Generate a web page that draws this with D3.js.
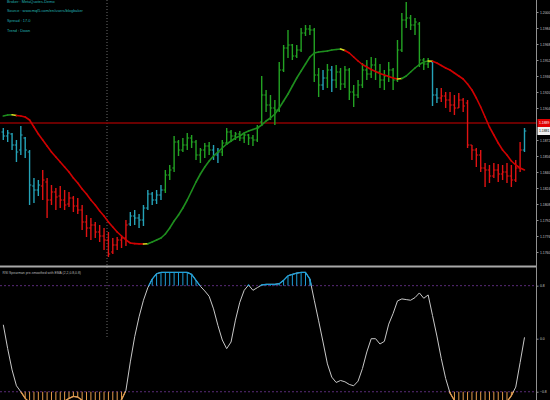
<!DOCTYPE html>
<html><head><meta charset="utf-8">
<script src="https://cdn.jsdelivr.net/npm/d3@7"></script>
<style>html,body{margin:0;padding:0;background:#000;overflow:hidden}</style>
</head><body>
<svg id="c" width="550" height="400"></svg>
<script>
// ---------------- DATA ----------------
const openP = [
1.1880,1.1876,1.1878,1.1867,1.1862,1.1874,1.1860,1.1826,1.1822,1.1826,
1.1830,1.1812,1.1820,1.1816,1.1812,1.1808,1.1814,1.1806,1.1802,1.1790,
1.1784,1.1787,1.1780,1.1776,1.1772,1.1760,1.1767,1.1772,1.1774,1.1788,
1.1796,1.1794,1.1792,1.1804,1.1818,1.1812,1.1817,1.1822,1.1837,1.1844,
1.1870,1.1862,1.1867,1.1874,1.1870,1.1857,1.1862,1.1866,1.1862,1.1857,
1.1860,1.1869,1.1880,1.1876,1.1878,1.1874,1.1877,1.1874,1.1872,1.1890,
1.1917,1.1907,1.1904,1.1902,1.1942,1.1964,1.1967,1.1956,1.1962,1.1979,
1.1983,1.1982,1.1937,1.1927,1.1934,1.1942,1.1932,1.1940,1.1928,1.1942,
1.1920,1.1917,1.1927,1.1942,1.1938,1.1947,1.1940,1.1932,1.1936,1.1942,
1.1932,1.1962,1.1992,1.1994,1.1987,1.1988,1.1952,1.1948,1.1950,1.1917,
1.1914,1.1916,1.1912,1.1907,1.1904,1.1912,1.1909,1.1867,1.1862,1.1857,
1.1844,1.1842,1.1836,1.1842,1.1838,1.1840,1.1836,1.1832,1.1844,1.1862];
const highP = [
1.1884,1.1882,1.1879,1.1872,1.1886,1.1875,1.1862,1.1834,1.1832,1.1842,
1.1834,1.1827,1.1824,1.1826,1.1822,1.1820,1.1816,1.1814,1.1807,1.1797,
1.1794,1.1790,1.1787,1.1784,1.1780,1.1774,1.1775,1.1776,1.1792,1.1800,
1.1802,1.1798,1.1807,1.1822,1.1820,1.1822,1.1827,1.1842,1.1847,1.1876,
1.1872,1.1874,1.1879,1.1877,1.1872,1.1864,1.1869,1.1870,1.1867,1.1864,
1.1872,1.1884,1.1882,1.1880,1.1881,1.1879,1.1878,1.1877,1.1887,1.1936,
1.1922,1.1917,1.1912,1.1950,1.1967,1.1982,1.1968,1.1967,1.1984,1.1987,
1.1987,1.1984,1.1944,1.1942,1.1948,1.1946,1.1947,1.1944,1.1946,1.1944,
1.1927,1.1932,1.1949,1.1952,1.1955,1.1954,1.1948,1.1942,1.1950,1.1944,
1.1972,1.1999,1.2010,1.1997,1.1994,1.1990,1.1954,1.1954,1.1950,1.1924,
1.1924,1.1920,1.1920,1.1917,1.1919,1.1914,1.1912,1.1867,1.1864,1.1862,
1.1849,1.1847,1.1849,1.1848,1.1847,1.1849,1.1847,1.1852,1.1870,1.1884];
const lowP = [
1.1872,1.1870,1.1862,1.1850,1.1857,1.1854,1.1807,1.1809,1.1816,1.1812,
1.1794,1.1807,1.1802,1.1804,1.1802,1.1805,1.1800,1.1798,1.1782,1.1775,
1.1772,1.1774,1.1770,1.1762,1.1755,1.1758,1.1762,1.1764,1.1766,1.1786,
1.1787,1.1784,1.1786,1.1802,1.1807,1.1808,1.1812,1.1819,1.1832,1.1840,
1.1856,1.1860,1.1862,1.1864,1.1852,1.1849,1.1854,1.1857,1.1852,1.1849,
1.1856,1.1867,1.1870,1.1872,1.1871,1.1869,1.1867,1.1866,1.1870,1.1886,
1.1900,1.1892,1.1887,1.1900,1.1940,1.1954,1.1952,1.1954,1.1960,1.1976,
1.1977,1.1930,1.1915,1.1922,1.1924,1.1920,1.1924,1.1922,1.1924,1.1912,
1.1905,1.1914,1.1924,1.1932,1.1934,1.1932,1.1924,1.1922,1.1930,1.1922,
1.1930,1.1960,1.1984,1.1982,1.1977,1.1945,1.1942,1.1944,1.1906,1.1909,
1.1910,1.1904,1.1900,1.1897,1.1904,1.1900,1.1864,1.1852,1.1845,1.1840,
1.1825,1.1829,1.1834,1.1830,1.1832,1.1829,1.1825,1.1830,1.1840,1.1860];
const closeP = [
1.1876,1.1879,1.1867,1.1860,1.1877,1.1862,1.1827,1.1822,1.1827,1.1832,
1.1812,1.1820,1.1815,1.1812,1.1807,1.1814,1.1806,1.1802,1.1790,1.1784,
1.1787,1.1780,1.1776,1.1772,1.1758,1.1767,1.1772,1.1774,1.1787,1.1796,
1.1794,1.1792,1.1804,1.1818,1.1812,1.1817,1.1822,1.1837,1.1842,1.1870,
1.1862,1.1867,1.1874,1.1870,1.1857,1.1862,1.1866,1.1862,1.1857,1.1860,
1.1869,1.1880,1.1876,1.1878,1.1874,1.1877,1.1874,1.1872,1.1884,1.1917,
1.1907,1.1904,1.1902,1.1942,1.1964,1.1967,1.1956,1.1962,1.1979,1.1983,
1.1982,1.1937,1.1927,1.1934,1.1942,1.1932,1.1940,1.1928,1.1942,1.1920,
1.1917,1.1927,1.1942,1.1938,1.1947,1.1940,1.1932,1.1936,1.1942,1.1932,
1.1962,1.1992,1.1994,1.1987,1.1990,1.1952,1.1948,1.1950,1.1917,1.1914,
1.1916,1.1912,1.1907,1.1904,1.1912,1.1906,1.1867,1.1862,1.1857,1.1844,
1.1842,1.1836,1.1842,1.1838,1.1840,1.1836,1.1832,1.1844,1.1862,1.1881];
// bar state: c = neutral, r = bearish trend, g = bullish trend
const barState = (
"ccccccccc" + "rrrrrrrrrrrrrrrrrrrr" + "cccccccc" + "ggggggggggg" + "cc" +
"ggggggggggggggggggggggg" + "c" + "g" + "c" + "gggggggggggggggggggggg" + "cc" +
"rrrrrrrrrrrrrrrrrrr" + "c").split("");
// smoothed moving average
const maP = [
1.1896,1.1897,1.18972,1.18965,1.1896,1.1895,1.1892,1.1885,1.1878,1.1872,
1.1866,1.1860,1.1855,1.1850,1.1845,1.1840,1.1834,1.1829,1.1823,1.1818,
1.1812,1.1807,1.1801,1.1796,1.1790,1.1785,1.1780,1.1776,1.1772,1.17690,
1.17684,1.17681,1.17680,1.17682,1.1770,1.1772,1.1774,1.1778,1.1784,1.1791,
1.1797,1.1804,1.1812,1.1821,1.1830,1.1838,1.1845,1.1851,1.1856,1.1860,
1.1864,1.1868,1.1871,1.1874,1.1876,1.1879,1.1881,1.18825,1.1884,1.1887,
1.1891,1.1894,1.1898,1.1904,1.1911,1.1918,1.1926,1.1934,1.1941,1.1948,
1.1955,1.1959,1.1960,1.19605,1.1961,1.1962,1.19625,1.1963,1.19615,1.1959,
1.1955,1.1951,1.19475,1.1945,1.19425,1.19405,1.19385,1.1937,1.19355,1.1934,
1.1933,1.19335,1.1936,1.1940,1.1944,1.19475,1.1950,1.1951,1.19508,1.1949,
1.19465,1.1944,1.1942,1.1939,1.1936,1.1933,1.1928,1.1922,1.1914,1.1905,
1.1895,1.1885,1.1877,1.1869,1.1862,1.1857,1.1851,1.1847,1.1844,1.1842];
// RSI Spearman oscillator (-1..1)
const oscV = [
0.21,-0.15,-0.47,-0.71,-0.80,-0.90,-0.96,-0.98,-0.99,-1.00,
-1.00,-0.99,-0.98,-0.97,-0.94,-0.90,-0.87,-0.88,-0.93,-0.97,
-0.99,-1.00,-1.00,-1.00,-1.00,-0.99,-0.97,-0.92,-0.78,-0.35,
0.03,0.33,0.58,0.77,0.90,0.98,1.00,1.00,1.00,1.00,
1.00,1.00,1.00,0.97,0.88,0.79,0.72,0.64,0.45,0.20,
-0.02,-0.15,-0.05,0.28,0.55,0.73,0.81,0.73,0.77,0.81,
0.82,0.82,0.82,0.83,0.88,0.95,0.97,0.99,1.00,1.00,
0.90,0.58,0.27,-0.05,-0.38,-0.58,-0.66,-0.63,-0.65,-0.69,
-0.71,-0.64,-0.45,-0.20,0.00,0.00,-0.08,-0.04,0.22,0.38,
0.57,0.60,0.59,0.58,0.62,0.69,0.61,0.66,0.35,0.04,
-0.30,-0.60,-0.82,-0.93,-0.97,-0.99,-1.00,-1.00,-1.00,-1.00,
-0.99,-1.00,-1.00,-0.99,-0.98,-0.95,-0.86,-0.73,-0.36,0.02];
const priceTicks = [1.2000,1.1984,1.1968,1.1952,1.1936,1.1920,1.1904,1.1888,1.1872,1.1856,1.1840,1.1824,1.1808,1.1792,1.1776,1.1760];
const levelValues = [0.8, -0.8];
const oscTicks = [0.8, 0.0, -0.8];
const markLevel = 1.1889;
const bidPrice = closeP[closeP.length - 1];
const infoLines = ["Broker : MetaQuotes-Demo", "Source : www.mql5.com/en/users/blogbaker", "Spread : 17.0", "Trend : Down"];
const oscTitle = "RSI Spearman pre-smoothed with EMA (2,2,0.8,0.8)";

// ---------------- DRAW ----------------
const svg = d3.select("#c");
const axisX = 536.5, mainBottom = 265, lowTop = 268;
const n = closeP.length;
const x = d3.scaleLinear().domain([0, n - 1]).range([3.3, 524.5]);
const y = d3.scaleLinear().domain([1.1747, 1.2012]).range([mainBottom, 0]);
const yo = d3.scaleLinear().domain([-1, 1]).range([405, 272.4]);

svg.append("rect").attr("width", 550).attr("height", 400).attr("fill", "#000");
const defs = svg.append("defs");
defs.append("clipPath").attr("id", "cm").append("rect").attr("x", 0).attr("y", 0).attr("width", axisX).attr("height", mainBottom);
defs.append("clipPath").attr("id", "cl").append("rect").attr("x", 0).attr("y", lowTop).attr("width", axisX).attr("height", 400 - lowTop);
defs.append("clipPath").attr("id", "cup").append("rect").attr("x", 0).attr("y", lowTop).attr("width", axisX).attr("height", yo(0.8) - lowTop);
defs.append("clipPath").attr("id", "cdn").append("rect").attr("x", 0).attr("y", yo(-0.8)).attr("width", axisX).attr("height", 400 - yo(-0.8));

const barColor = {c: "#25a3b8", r: "#e01212", g: "#23a323"};
const font = "Liberation Sans, Arial, sans-serif";

// vertical dotted line
svg.append("line").attr("x1", 107).attr("x2", 107).attr("y1", 0).attr("y2", 338)
  .attr("stroke", "#6a6a6a").attr("stroke-width", 1).attr("stroke-dasharray", "1,2");

// info text
svg.append("g").selectAll("text").data(infoLines).join("text")
  .attr("x", 7).attr("y", (d, i) => 2.5 + i * 9.8)
  .attr("fill", "#21b2b2").attr("font-family", font).attr("font-size", 3.9)
  .text(d => d);

// main panel
const main = svg.append("g").attr("clip-path", "url(#cm)");
main.append("line").attr("x1", 0).attr("x2", axisX).attr("y1", y(markLevel)).attr("y2", y(markLevel))
  .attr("stroke", "#8c0000").attr("stroke-width", 1.6);

const bars = main.append("g").selectAll("g").data(d3.range(n)).join("g")
  .attr("stroke", i => barColor[barState[i]]);
bars.append("line").attr("x1", i => x(i)).attr("x2", i => x(i))
  .attr("y1", i => y(highP[i])).attr("y2", i => y(lowP[i])).attr("stroke-width", 1.4);
bars.append("line").attr("x1", i => x(i) - 1.8).attr("x2", i => x(i))
  .attr("y1", i => y(openP[i])).attr("y2", i => y(openP[i])).attr("stroke-width", 1);
bars.append("line").attr("x1", i => x(i)).attr("x2", i => x(i) + 1.8)
  .attr("y1", i => y(closeP[i])).attr("y2", i => y(closeP[i])).attr("stroke-width", 1);

// MA line coloured by slope
const segs = [];
let prevDir = 0;
for (let i = 0; i < n - 1; i++) {
  const d = maP[i + 1] - maP[i];
  const dir = d >= 0 ? 1 : -1;
  let col = dir > 0 ? "#1e8e1e" : "#d00000";
  if (i > 0 && dir !== prevDir) col = "#d8d820";
  segs.push({i, col});
  prevDir = dir;
}
main.append("g").selectAll("line").data(segs).join("line")
  .attr("x1", s => x(s.i)).attr("x2", s => x(s.i + 1))
  .attr("y1", s => y(maP[s.i])).attr("y2", s => y(maP[s.i + 1]))
  .attr("stroke", s => s.col).attr("stroke-width", 1.6).attr("stroke-linecap", "round");

// separator
svg.append("line").attr("x1", 0).attr("x2", axisX).attr("y1", 266.5).attr("y2", 266.5)
  .attr("stroke", "#a8a8a8").attr("stroke-width", 2);

// lower panel
const low = svg.append("g").attr("clip-path", "url(#cl)");
low.append("g").selectAll("line").data(levelValues).join("line")
  .attr("x1", 0).attr("x2", axisX).attr("y1", d => yo(d)).attr("y2", d => yo(d))
  .attr("stroke", "#5a2a78").attr("stroke-width", 1).attr("stroke-dasharray", "2,2");
const upIdx = d3.range(n).filter(i => oscV[i] > 0.8);
const dnIdx = d3.range(n).filter(i => oscV[i] < -0.8);
low.append("g").selectAll("line").data(upIdx).join("line")
  .attr("x1", i => x(i)).attr("x2", i => x(i)).attr("y1", yo(0.8)).attr("y2", i => yo(oscV[i]))
  .attr("stroke", "#1e9fd8").attr("stroke-width", 1);
low.append("g").selectAll("line").data(dnIdx).join("line")
  .attr("x1", i => x(i)).attr("x2", i => x(i)).attr("y1", yo(-0.8)).attr("y2", i => yo(oscV[i]))
  .attr("stroke", "#e39a4a").attr("stroke-width", 1);
const oscLine = d3.line().x((d, i) => x(i)).y(d => yo(d));
low.append("path").datum(oscV).attr("d", oscLine).attr("fill", "none")
  .attr("stroke", "#c8c8c8").attr("stroke-width", 1);
low.append("path").datum(oscV).attr("d", oscLine).attr("fill", "none").attr("clip-path", "url(#cup)")
  .attr("stroke", "#1e9fd8").attr("stroke-width", 1.3);
low.append("path").datum(oscV).attr("d", oscLine).attr("fill", "none").attr("clip-path", "url(#cdn)")
  .attr("stroke", "#e39a4a").attr("stroke-width", 1.3);
svg.append("text").attr("x", 2.5).attr("y", 273.5).attr("fill", "#b8b8b8")
  .attr("font-family", font).attr("font-size", 3.4).text(oscTitle);

// right axis line
svg.append("line").attr("x1", axisX).attr("x2", axisX).attr("y1", 0).attr("y2", 400)
  .attr("stroke", "#909090").attr("stroke-width", 1);

// price axis
const shownTicks = priceTicks.filter(t => Math.abs(y(t) - y(markLevel)) > 6 && Math.abs(y(t) - y(bidPrice)) > 6);
const pAxis = d3.axisRight(y).tickValues(shownTicks).tickSize(2).tickFormat(d3.format(".4f"));
const pa = svg.append("g").attr("transform", `translate(${axisX},0)`).call(pAxis);
pa.select(".domain").remove();
pa.selectAll("line").attr("stroke", "#909090");
pa.selectAll("text").attr("fill", "#c8c8c8").attr("font-size", 3.4).attr("font-family", font).attr("x", 3.5);

// price labels
svg.append("rect").attr("x", axisX + 1).attr("y", y(markLevel) - 4).attr("width", 13).attr("height", 8).attr("fill", "#e00000");
svg.append("text").attr("x", axisX + 2.5).attr("y", y(markLevel) + 1.3).attr("fill", "#fff").attr("font-size", 3.4).attr("font-family", font).text(d3.format(".4f")(markLevel));
svg.append("rect").attr("x", axisX + 1).attr("y", y(bidPrice) - 4).attr("width", 13).attr("height", 8).attr("fill", "#f0f0f0");
svg.append("text").attr("x", axisX + 2.5).attr("y", y(bidPrice) + 1.3).attr("fill", "#000").attr("font-size", 3.4).attr("font-family", font).text(d3.format(".4f")(bidPrice));

// oscillator axis
const oAxis = d3.axisRight(yo).tickValues(oscTicks).tickSize(2).tickFormat(d3.format(".1f"));
const oa = svg.append("g").attr("transform", `translate(${axisX},0)`).call(oAxis);
oa.select(".domain").remove();
oa.selectAll("line").attr("stroke", "#909090");
oa.selectAll("text").attr("fill", "#c8c8c8").attr("font-size", 3.4).attr("font-family", font).attr("x", 3.5);
</script>
</body></html>
